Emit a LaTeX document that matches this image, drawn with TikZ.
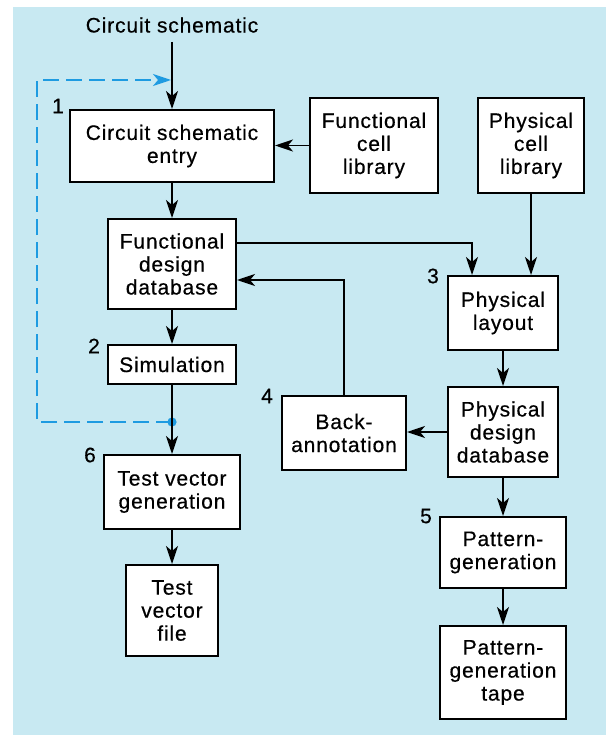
\documentclass[tikz,border=0pt]{standalone}
\usepackage{fontspec}
\setmainfont{Liberation Sans}[LetterSpace=4,FakeBold=0.5]
\usetikzlibrary{arrows.meta,shadows}
\definecolor{bgblue}{RGB}{200,233,242}
\definecolor{dashblue}{RGB}{30,155,225}
\begin{document}
\begin{tikzpicture}[x=1pt,y=-1pt,
  font=\fontsize{21}{23}\selectfont,
  box/.style={draw=black, line width=2pt, fill=white, align=center, inner sep=0pt,
    drop shadow={shadow xshift=1.2pt, shadow yshift=-1.2pt, fill=black, opacity=1}},
  arr/.style={line width=1.8pt, -{Stealth[length=18pt,width=12pt,inset=5pt]}},
  blueline/.style={draw=dashblue, line width=1.8pt, dash pattern=on 16pt off 7pt},
  num/.style={inner sep=0pt}]
\useasboundingbox (0,0) rectangle (606,735);
\fill[white] (0,0) rectangle (606,735);
\fill[bgblue] (13,7) rectangle (606,735);

\node[inner sep=0pt] (in) at (172,25) {Circuit schematic};
\coordinate (inb) at (172,42);
\coordinate (merge) at (172,80);

\node[box, minimum width=204pt, minimum height=72pt] (CSE) at (172,146) {Circuit schematic\\entry};
\node[box, minimum width=128pt, minimum height=95pt] (FCL) at (374,145.5) {Functional\\cell\\library};
\node[box, minimum width=106pt, minimum height=95pt] (PCL) at (531,145.5) {Physical\\cell\\library};
\node[box, minimum width=128pt, minimum height=90pt] (FDD) at (172,264) {Functional\\design\\database};
\node[box, minimum width=128pt, minimum height=39pt] (SIM) at (172,364.5) {Simulation};
\node[box, minimum width=110pt, minimum height=74pt] (PL) at (503,313) {Physical\\layout};
\node[box, minimum width=124pt, minimum height=74pt] (BA) at (344,433) {Back-\\annotation};
\node[box, minimum width=110pt, minimum height=90pt] (PDD) at (503,432) {Physical\\design\\database};
\node[box, minimum width=136pt, minimum height=74pt] (TVG) at (172,492) {Test vector\\generation};
\node[box, minimum width=92pt, minimum height=91pt] (TVF) at (172,610.5) {Test\\vector\\file};
\node[box, minimum width=126pt, minimum height=71pt] (PG) at (503,552.5) {Pattern-\\generation};
\node[box, minimum width=126pt, minimum height=93pt] (PGT) at (503,672.5) {Pattern-\\generation\\tape};

\node[num] (n1) at (58,106) {1};
\node[num] (n2) at (94,346) {2};
\node[num] (n3) at (433,276) {3};
\node[num] (n4) at (267,396) {4};
\node[num] (n5) at (426,516) {5};
\node[num] (n6) at (90,455) {6};

\coordinate (dot) at (172,422);
\coordinate (dl) at (37,422);
\coordinate (ul) at (37,80);
\coordinate (PLin) at ([xshift=-31pt]PL.north);

% feedback (drawn first, under black lines)
\draw[blueline, -{Stealth[length=18pt,width=12pt,inset=5pt]}] (dot) -- (dl) -- (ul) -- ([xshift=-1pt]merge);
\fill[dashblue] (dot) circle (4.6pt);

\draw[arr] (inb) -- (CSE.north);
\draw[arr] (FCL.west) -- (FCL.west -| CSE.east);
\draw[arr] (CSE.south) -- (FDD.north);
\draw[arr] (FDD.south) -- (SIM.north);
\draw[arr] (SIM.south) -- (TVG.north);
\draw[arr] (TVG.south) -- (TVF.north);
\draw[arr] ([yshift=21pt]FDD.east) -| (PLin);
\draw[arr] (PCL.south) -- (PCL.south |- PL.north);
\draw[arr] (PL.south) -- (PDD.north);
\draw[arr] (PDD.west) -- (PDD.west -| BA.east);
\draw[arr] (BA.north) |- ([yshift=-16pt]FDD.east);
\draw[arr] (PDD.south) -- (PG.north);
\draw[arr] (PG.south) -- (PGT.north);
\end{tikzpicture}
\end{document}
